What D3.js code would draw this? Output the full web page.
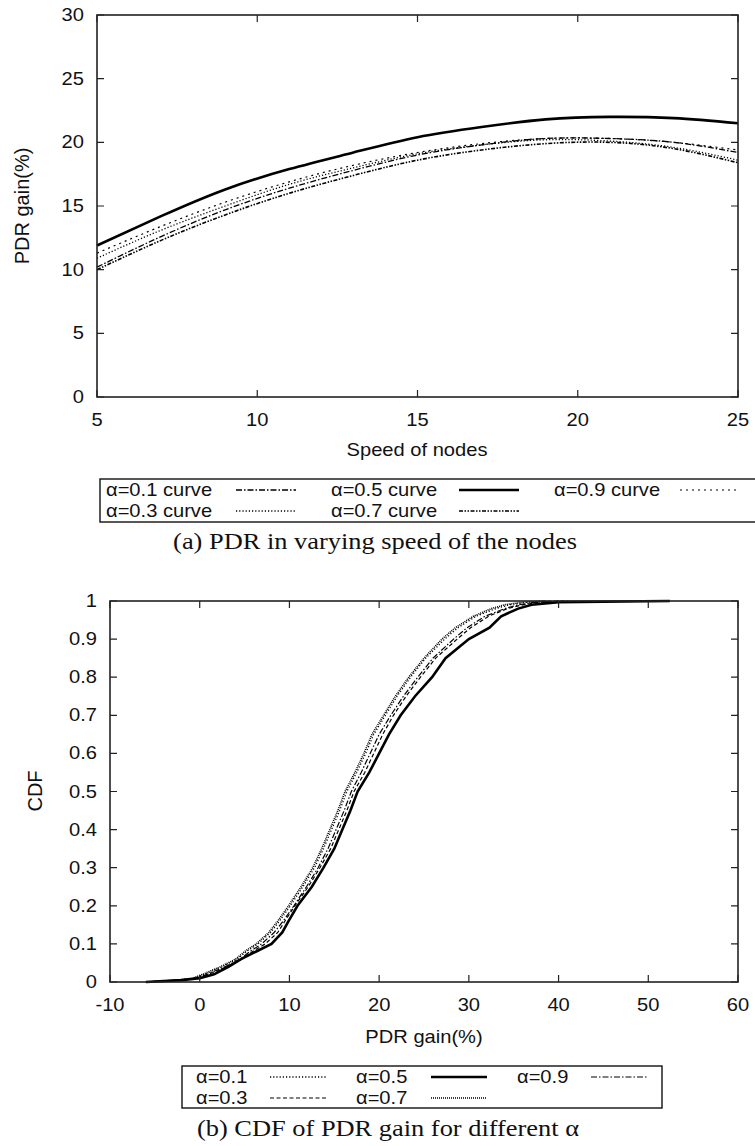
<!DOCTYPE html>
<html>
<head>
<meta charset="utf-8">
<title>PDR gain charts</title>
<script src="https://d3js.org/d3.v7.min.js"></script>
<style>
  body { margin: 0; background: #fff; }
  svg { display: block; font-family: 'Liberation Sans', Arial, sans-serif; }
  .tick-label { font-size: 17.5px; fill: #111; }
  .axis-title { font-size: 17.5px; fill: #111; }
  .axis-title-v { font-size: 20px; fill: #111; }
  .legend-text { font-size: 17.5px; fill: #111; }
  .caption { font-family: 'Liberation Serif', 'DejaVu Serif', serif; font-size: 24px; fill: #111; }
</style>
</head>
<body>
<div id="chart"></div>
<script>
// ---- chart (a): PDR gain vs speed of nodes ----
var speeds = [5, 7, 9, 11, 13, 15, 17, 19, 21, 23, 25];
var speedA01 = [10.2, 12.6, 14.7, 16.4, 17.8, 19.0, 19.8, 20.3, 20.3, 20.0, 19.2];
var speedA03 = [10.9, 13.1, 15.0, 16.7, 18.0, 19.1, 19.8, 20.2, 20.1, 19.6, 18.6];
var speedA05 = [11.9, 14.2, 16.3, 17.9, 19.2, 20.4, 21.2, 21.8, 22.0, 21.9, 21.5];
var speedA07 = [10.0, 12.3, 14.3, 16.0, 17.4, 18.6, 19.4, 19.9, 20.0, 19.5, 18.4];
var speedA09 = [11.3, 13.4, 15.3, 16.9, 18.2, 19.2, 19.9, 20.3, 20.3, 20.0, 19.4];
var speedTicks = [5, 10, 15, 20, 25];
var gainTicks = [0, 5, 10, 15, 20, 25, 30];

// ---- chart (b): CDF of PDR gain ----
var cdfLevels = [0, 0.005, 0.01, 0.02, 0.04, 0.06, 0.08, 0.1, 0.13, 0.16, 0.2, 0.25, 0.3, 0.35, 0.4,
                 0.45, 0.5, 0.55, 0.6, 0.65, 0.7, 0.75, 0.8, 0.85, 0.9, 0.93, 0.96, 0.98, 0.99, 0.997, 1];
var cdfA01 = [-6, -2.5, -0.7, 0.5, 2.5, 4.2, 5.2, 6.5, 7.9, 8.9, 10.1, 11.5, 12.8, 13.8, 14.7,
              15.6, 16.4, 17.5, 18.5, 19.4, 20.7, 22.0, 23.5, 25.2, 27.3, 28.8, 30.8, 33.0, 34.5, 36.5, 39.0];
var cdfA03 = [-6, -2.2, -0.4, 1.0, 3.0, 4.7, 5.9, 7.3, 8.7, 9.5, 10.6, 12.1, 13.4, 14.6, 15.5,
              16.4, 17.2, 18.4, 19.4, 20.4, 21.6, 23.0, 24.6, 26.3, 28.7, 30.2, 32.2, 34.3, 36.0, 38.0, 41.0];
var cdfA05 = [-6, -2, 0, 1.6, 3.2, 4.6, 6.3, 8.0, 9.2, 9.9, 10.9, 12.5, 13.8, 15.0, 15.9,
              16.8, 17.6, 18.9, 20.0, 21.1, 22.4, 24.0, 25.9, 27.4, 30.0, 32.3, 33.6, 35.5, 37.0, 40.0, 52.4];
var cdfA07 = [-6, -2.5, -0.8, 0.3, 2.3, 4.0, 5.0, 6.3, 7.7, 8.7, 9.9, 11.3, 12.6, 13.6, 14.5,
              15.4, 16.2, 17.3, 18.3, 19.2, 20.5, 21.8, 23.3, 25.0, 27.0, 28.5, 30.5, 32.5, 34.0, 36.0, 38.5];
var cdfA09 = [-6, -2.3, -0.5, 0.8, 2.8, 4.5, 5.6, 6.9, 8.3, 9.3, 10.5, 11.9, 13.2, 14.3, 15.2,
              16.1, 16.9, 18.0, 19.0, 20.0, 21.3, 22.7, 24.3, 26.0, 28.3, 29.8, 31.8, 34.0, 35.5, 37.5, 40.0];
var pdrTicks = [-10, 0, 10, 20, 30, 40, 50, 60];
var cdfTicks = [0, 0.1, 0.2, 0.3, 0.4, 0.5, 0.6, 0.7, 0.8, 0.9, 1];

// the original figure is stretched sideways a little, so text is too
var SX = 1.15;

var svg = d3.select("#chart").append("svg")
  .attr("width", 755)
  .attr("height", 1146);

function wideText(g, cls, x, y, anchor, str, sx) {
  return g.append("text")
    .attr("class", cls)
    .attr("transform", "translate(" + x + "," + y + ") scale(" + (sx || SX) + ",1)")
    .attr("text-anchor", anchor)
    .text(str);
}

// gnuplot-like frame with inward ticks mirrored on all sides
function drawFrame(g, x, y, xt, yt, yfmt) {
  var x0 = x.range()[0], x1 = x.range()[1];
  var y0 = y.range()[0], y1 = y.range()[1];
  var t = 7;
  g.selectAll(".xt").data(xt).enter().append("path")
    .attr("d", d => "M" + x(d) + "," + y0 + "v" + (-t) + "M" + x(d) + "," + y1 + "v" + t)
    .attr("stroke", "#222").attr("stroke-width", 1.2);
  g.selectAll(".yt").data(yt).enter().append("path")
    .attr("d", d => "M" + x0 + "," + y(d) + "h" + t + "M" + x1 + "," + y(d) + "h" + (-t))
    .attr("stroke", "#222").attr("stroke-width", 1.2);
  g.append("rect")
    .attr("x", x0).attr("y", y1)
    .attr("width", x1 - x0).attr("height", y0 - y1)
    .attr("fill", "none").attr("stroke", "#222").attr("stroke-width", 1.6);
  xt.forEach(d => wideText(g, "tick-label", x(d), y0 + 29, "middle", d));
  yt.forEach(d => wideText(g, "tick-label", x0 - 13, y(d) + 6, "end", yfmt(d)));
}

function drawLegend(g, items, box, rowY, textX, sampleX, sampleW) {
  g.append("rect")
    .attr("x", box[0]).attr("y", box[1])
    .attr("width", box[2]).attr("height", box[3])
    .attr("fill", "none").attr("stroke", "#111").attr("stroke-width", 1.4);
  items.forEach(function(it, i) {
    var c = Math.floor(i / 2), r = i % 2;
    wideText(g, "legend-text", textX[c], rowY[r] + 6, "start", it.label);
    g.append("line")
      .attr("x1", sampleX[c]).attr("x2", sampleX[c] + sampleW)
      .attr("y1", rowY[r]).attr("y2", rowY[r])
      .attr("stroke", "#000")
      .attr("stroke-width", it.width)
      .attr("stroke-dasharray", it.dash);
  });
}

// ---------- chart (a) ----------
var xa = d3.scaleLinear().domain([5, 25]).range([97, 738]);
var ya = d3.scaleLinear().domain([0, 30]).range([397, 15]);
var ga = svg.append("g");

var seriesA = [
  {label: "\u03b1=0.1 curve", vals: speedA01, dash: "6,2,1.5,2", width: 1.3},
  {label: "\u03b1=0.3 curve", vals: speedA03, dash: "1.2,2", width: 1.3},
  {label: "\u03b1=0.5 curve", vals: speedA05, dash: null, width: 2.6},
  {label: "\u03b1=0.7 curve", vals: speedA07, dash: "4,1.5,1.5,1.5,1.5,1.5", width: 1.6},
  {label: "\u03b1=0.9 curve", vals: speedA09, dash: "2,4", width: 1.2}
];

var lineA = d3.line()
  .x((d, i) => xa(speeds[i]))
  .y(d => ya(d))
  .curve(d3.curveNatural);

seriesA.forEach(function(s) {
  ga.append("path")
    .attr("d", lineA(s.vals))
    .attr("fill", "none")
    .attr("stroke", "#000")
    .attr("stroke-width", s.width)
    .attr("stroke-dasharray", s.dash);
});

drawFrame(ga, xa, ya, speedTicks, gainTicks, d => d);

wideText(ga, "axis-title", 417, 456, "middle", "Speed of nodes");
ga.append("text").attr("class", "axis-title-v")
  .attr("transform", "translate(29,206) rotate(-90)")
  .attr("text-anchor", "middle")
  .text("PDR gain(%)");

drawLegend(ga, seriesA, [100, 479, 660, 43], [490, 511],
  [106, 331, 554], [236, 459, 680], 60);

wideText(ga, "caption", 375, 549, "middle", "(a)  PDR in varying speed of the nodes", 1.1);

// ---------- chart (b) ----------
var xb = d3.scaleLinear().domain([-10, 60]).range([110, 738]);
var yb = d3.scaleLinear().domain([0, 1]).range([982, 601]);
var gb = svg.append("g");

var seriesB = [
  {label: "\u03b1=0.1", vals: cdfA01, dash: "1.2,2", width: 1.3},
  {label: "\u03b1=0.3", vals: cdfA03, dash: "4,2.5", width: 1.2},
  {label: "\u03b1=0.5", vals: cdfA05, dash: null, width: 2.6},
  {label: "\u03b1=0.7", vals: cdfA07, dash: "1,1", width: 1.6},
  {label: "\u03b1=0.9", vals: cdfA09, dash: "6,2,1.5,2", width: 1.2}
];

var lineB = d3.line()
  .x(d => xb(d))
  .y((d, i) => yb(cdfLevels[i]));

seriesB.forEach(function(s) {
  gb.append("path")
    .attr("d", lineB(s.vals))
    .attr("fill", "none")
    .attr("stroke", "#000")
    .attr("stroke-width", s.width)
    .attr("stroke-dasharray", s.dash);
});

drawFrame(gb, xb, yb, pdrTicks, cdfTicks, d => String(+d.toFixed(1)));

wideText(gb, "axis-title", 424, 1043, "middle", "PDR gain(%)");
gb.append("text").attr("class", "axis-title-v")
  .attr("transform", "translate(42,791) rotate(-90)")
  .attr("text-anchor", "middle")
  .text("CDF");

drawLegend(gb, seriesB, [182, 1066, 480, 42], [1077, 1098],
  [196, 356, 517], [270, 431, 591], 56);

wideText(gb, "caption", 388, 1136, "middle", "(b)  CDF of PDR gain for different \u03b1", 1.1);
</script>
</body>
</html>
